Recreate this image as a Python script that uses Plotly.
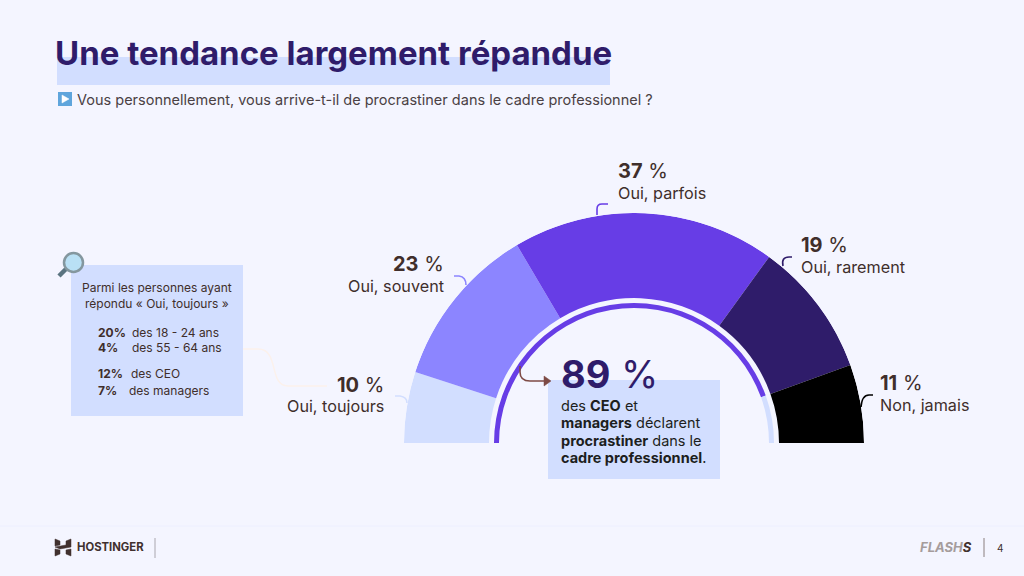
import plotly.graph_objects as go

# ---- data ----
categories = ["Oui, toujours", "Oui, souvent", "Oui, parfois", "Oui, rarement", "Non, jamais"]
values = [10, 23, 37, 19, 11]
value_labels = ["10 %", "23 %", "37 %", "19 %", "11 %"]
colors = ["#D2DEFF", "#8C85FF", "#673DE6", "#2F1C6A", "#000000"]
ceo_parts = ["CEO et managers", "Autres"]
ceo_values = [89, 11]
ceo_colors = ["#673DE6", "#D2DEFF"]

BG = "#F4F5FF"
LIGHT = "#D2DEFF"
BROWN = "#3F2E2B"
NAVY = "#2F1C6A"
FONT = "Inter"

W, H = 1024, 576
CX, CY, R = 634, 443, 230


def px(x):
    return x / W


def py(y):
    return 1 - y / H


def sectors(vals, inner, thick):
    """Cumulative bars around the half circle, from the left end clockwise."""
    thetas, widths = [], []
    total = sum(vals)
    acc = 0
    for v in vals:
        w = v / total * 180
        thetas.append(acc + w / 2)
        widths.append(w)
        acc += w
    return dict(theta=thetas, width=widths, base=[inner] * len(vals), r=[thick] * len(vals))


fig = go.Figure()
fig.add_trace(go.Barpolar(**sectors(values, 145, 85), marker=dict(color=colors, line=dict(width=0)),
                          text=categories, hoverinfo="text"))
fig.add_trace(go.Barpolar(**sectors(ceo_values, 135, 5), marker=dict(color=ceo_colors, line=dict(width=0)),
                          text=ceo_parts, hoverinfo="text"))

shapes = []
ann = []


def rect(x0, y0, x1, y1, color):
    shapes.append(dict(type="rect", xref="paper", yref="paper", x0=px(x0), x1=px(x1), y0=py(y0), y1=py(y1),
                       fillcolor=color, line=dict(width=0), layer="below"))


def path(points, color, width=1.5, fill=None, layer="above"):
    d = ""
    for cmd, coords in points:
        if cmd in "ML":
            # one command per point: the shape parser keeps only one pair per command
            for x, y in coords:
                d += f"{cmd}{px(x):.5f},{py(y):.5f} "
        else:
            d += cmd + " ".join(f"{px(x):.5f},{py(y):.5f}" for x, y in coords) + " "
    if fill:
        d += "Z"
    shapes.append(dict(type="path", xref="paper", yref="paper", path=d,
                       line=dict(color=color, width=width), fillcolor=fill or "rgba(0,0,0,0)", layer=layer))


def txt(x, y, s, size, color=BROWN, anchor="left", family=FONT):
    ann.append(dict(xref="paper", yref="paper", x=px(x), y=py(y), text=s, showarrow=False, xanchor=anchor,
                    yanchor="middle", align=anchor, borderpad=0, borderwidth=0,
                    font=dict(family=family, size=size, color=color)))


# title and question
rect(57, 57, 610, 85, LIGHT)
txt(55, 53, "<b>Une tendance largement répandue</b>", 33, NAVY)
rect(58, 92, 72, 106, "#5FA5DC")
path([("M", [(62, 95)]), ("L", [(69, 99), (62, 103)])], "#FFFFFF", 0.5, fill="#FFFFFF")
txt(77, 99, "Vous personnellement, vous arrive-t-il de procrastiner dans le cadre professionnel ?", 14.5, "#4A4144")

# value labels
txt(618, 171, "<b>37</b> %", 20)
txt(618, 193, "Oui, parfois", 16.2)
txt(801, 245, "<b>19</b> %", 20)
txt(801, 267, "Oui, rarement", 16.2)
txt(880, 383, "<b>11</b> %", 20)
txt(880, 405, "Non, jamais", 16.2)
txt(444, 264, "<b>23</b> %", 20, anchor="right")
txt(444, 286, "Oui, souvent", 16.2, anchor="right")
txt(384, 385, "<b>10</b> %", 20, anchor="right")
txt(384, 406, "Oui, toujours", 16.2, anchor="right")

# small connectors
path([("M", [(597, 215)]), ("L", [(597, 209)]), ("Q", [(597, 204), (602, 204)]), ("L", [(608, 204)])], "#673DE6", 1.6)
path([("M", [(783, 266)]), ("Q", [(781, 257), (789, 257)]), ("L", [(792, 257)])], NAVY, 1.6)
path([("M", [(861, 407)]), ("Q", [(862, 395), (869, 395)]), ("L", [(873, 395)])], "#000000", 1.6)
path([("M", [(454, 276)]), ("L", [(459, 276)]), ("Q", [(466, 277), (466, 285)])], "#8C85FF", 1.6)
path([("M", [(395, 396)]), ("L", [(400, 396)]), ("Q", [(407, 397), (407, 403)])], LIGHT, 1.6)

# left box
rect(71, 265, 243, 416, LIGHT)
txt(157, 287, "Parmi les personnes ayant", 12, anchor="center")
txt(157, 303, "répondu « Oui, toujours »", 12, anchor="center")
txt(98, 332, "<b>20%</b>", 12)
txt(132, 332, "des 18 - 24 ans", 12)
txt(98, 347, "<b>4%</b>", 12)
txt(132, 347, "des 55 - 64 ans", 12)
txt(98, 373, "<b>12%</b>", 12)
txt(131, 373, "des CEO", 12)
txt(98, 390, "<b>7%</b>", 12)
txt(129, 390, "des managers", 12)
path([("M", [(243, 349)]), ("L", [(258, 349)]), ("C", [(280, 349), (268, 386), (288, 386)]), ("L", [(327, 386)])],
     "#FBF1EC", 1.5)

# magnifier
path([("M", [(59, 276)]), ("L", [(66, 269)])], "#5B7480", 4.5)
shapes.append(dict(type="circle", xref="paper", yref="paper", x0=px(64), x1=px(83), y0=py(272), y1=py(253),
                   fillcolor="#B9E0F5", line=dict(color="#84979F", width=2.5)))

# centre callout
rect(548, 380, 720, 479, LIGHT)
txt(561, 374, "<b>89</b> %", 38, NAVY)
txt(561, 405, "des <b>CEO</b> et", 14.5, "#1D1E20")
txt(561, 422, "<b>managers</b> déclarent", 14.5, "#1D1E20")
txt(561, 440, "<b>procrastiner</b> dans le", 14.5, "#1D1E20")
txt(561, 457, "<b>cadre professionnel</b>.", 14.5, "#1D1E20")
path([("M", [(520, 366)]), ("L", [(520, 372)]), ("Q", [(520, 381), (530, 381)]), ("L", [(545, 381)])], "#7D4A45", 1.6)
path([("M", [(544, 376)]), ("L", [(551, 381), (544, 386)])], "#7D4A45", 0.5, fill="#7D4A45")

# footer
LOGO = "#40302E"
path([("M", [(0, 526)]), ("L", [(1024, 526)])], "#EDEFFF", 1)
path([("M", [(55, 539)]), ("L", [(60, 541), (60, 545), (55, 546)])], LOGO, 0.5, fill=LOGO)
path([("M", [(71, 539)]), ("L", [(66, 541), (66, 545), (55, 547), (60, 549), (71, 547)])], LOGO, 0.5, fill=LOGO)
path([("M", [(55, 556)]), ("L", [(60, 554), (60, 550), (55, 549)])], LOGO, 0.5, fill=LOGO)
path([("M", [(71, 556)]), ("L", [(66, 554), (66, 550), (71, 549)])], LOGO, 0.5, fill=LOGO)
txt(77, 547, "<b>HOSTINGER</b>", 11.3, LOGO)
path([("M", [(155, 538)]), ("L", [(155, 558)])], "#A9A6AE", 1)
txt(920, 547, "<b><i><span style='color:#A59C9C'>FLASH</span><span style='color:#40302E'>S</span></i></b>", 13, "#6B5A58")
path([("M", [(984, 538)]), ("L", [(984, 557)])], "#8A7F7F", 1)
txt(1000, 548, "4", 10, LOGO, anchor="center")

fig.update_layout(
    width=W, height=H, autosize=False,
    margin=dict(l=0, r=0, t=0, b=0),
    paper_bgcolor=BG, plot_bgcolor=BG,
    showlegend=False,
    shapes=shapes, annotations=ann,
    polar=dict(
        domain=dict(x=[px(CX - R), px(CX + R)], y=[py(CY), py(CY - R)]),
        sector=[0, 180], bgcolor="rgba(0,0,0,0)",
        angularaxis=dict(visible=False, direction="clockwise", rotation=180),
        radialaxis=dict(visible=False, range=[0, R]),
        barmode="overlay",
    ),
)
fig.write_html("out.html", config={"displayModeBar": False},
               post_script="document.body.style.margin='0';document.documentElement.style.overflow='hidden';")
